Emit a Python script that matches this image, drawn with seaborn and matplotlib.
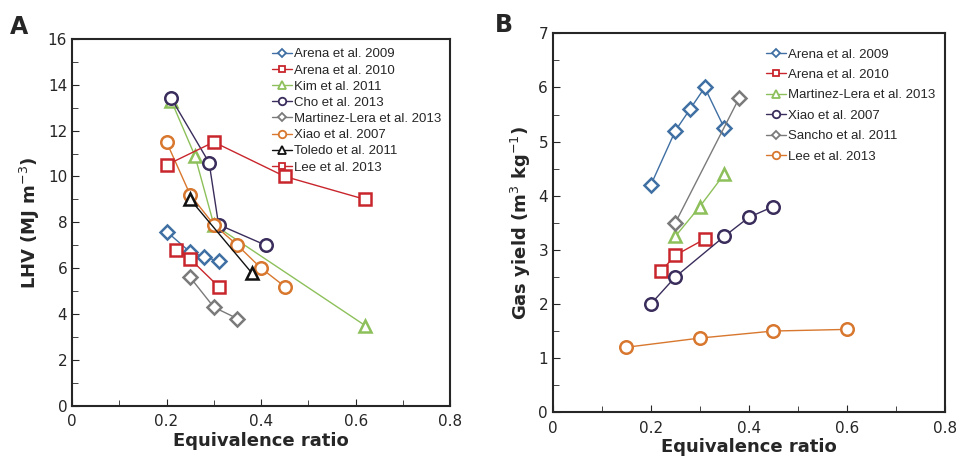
import matplotlib
matplotlib.use("Agg")
import matplotlib.pyplot as plt
from matplotlib.ticker import MultipleLocator
import seaborn as sns
import pandas as pd

sns.set_style("ticks")
plt.rcParams['font.family'] = ['DejaVu Sans']

# panel A: LHV vs equivalence ratio
a_labels = ['Arena et al. 2009', 'Arena et al. 2010', 'Kim et al. 2011', 'Cho et al. 2013',
            'Martinez-Lera et al. 2013', 'Xiao et al. 2007', 'Toledo et al. 2011', 'Lee et al. 2013']
a_x = [[0.20, 0.25, 0.28, 0.31],
       [0.22, 0.25, 0.31],
       [0.21, 0.26, 0.30, 0.62],
       [0.21, 0.29, 0.31, 0.41],
       [0.25, 0.30, 0.35],
       [0.20, 0.25, 0.30, 0.35, 0.40, 0.45],
       [0.25, 0.38],
       [0.20, 0.30, 0.45, 0.62]]
a_y = [[7.6, 6.7, 6.5, 6.3],
       [6.8, 6.4, 5.2],
       [13.3, 10.9, 7.9, 3.5],
       [13.4, 10.6, 7.9, 7.0],
       [5.6, 4.3, 3.8],
       [11.5, 9.2, 7.9, 7.0, 6.0, 5.2],
       [9.0, 5.8],
       [10.5, 11.5, 10.0, 9.0]]
a_style = [('#3f6fa3', 'D', 7), ('#c8262c', 's', 8), ('#8dc05a', '^', 9), ('#3a2d5c', 'o', 9),
           ('#7a7a7a', 'D', 7), ('#d8772e', 'o', 9), ('#111111', '^', 9), ('#c8262c', 's', 8)]

# panel B: gas yield vs equivalence ratio
b_labels = ['Arena et al. 2009', 'Arena et al. 2010', 'Martinez-Lera et al. 2013',
            'Xiao et al. 2007', 'Sancho et al. 2011', 'Lee et al. 2013']
b_x = [[0.20, 0.25, 0.28, 0.31, 0.35],
       [0.22, 0.25, 0.31],
       [0.25, 0.30, 0.35],
       [0.20, 0.25, 0.35, 0.40, 0.45],
       [0.25, 0.38],
       [0.15, 0.30, 0.45, 0.60]]
b_y = [[4.2, 5.2, 5.6, 6.0, 5.25],
       [2.6, 2.9, 3.2],
       [3.25, 3.8, 4.4],
       [2.0, 2.5, 3.25, 3.6, 3.8],
       [3.5, 5.8],
       [1.2, 1.37, 1.5, 1.53]]
b_style = [('#3f6fa3', 'D', 7), ('#c8262c', 's', 8), ('#8dc05a', '^', 9),
           ('#3a2d5c', 'o', 9), ('#7a7a7a', 'D', 7), ('#d8772e', 'o', 9)]

fig = plt.figure(figsize=(9.6, 4.57), dpi=100)
axA = fig.add_axes([0.075, 0.112, 0.394, 0.803])
axB = fig.add_axes([0.576, 0.098, 0.408, 0.829])


def draw(ax, labels, xs, ys, styles, spacing, anchor):
    for lab, x, y, (c, m, s) in zip(labels, xs, ys, styles):
        df = pd.DataFrame({'x': x, 'y': y})
        sns.lineplot(data=df, x='x', y='y', ax=ax, sort=False, color=c, lw=1,
                     marker=m, markersize=s, markerfacecolor='white',
                     markeredgecolor=c, markeredgewidth=1.8, label=lab)
    leg = ax.legend(loc='upper right', bbox_to_anchor=anchor, frameon=False, handlelength=1.5,
                    handletextpad=0.15, labelspacing=spacing, markerscale=0.6,
                    borderaxespad=0.3, prop={'family': 'Liberation Sans', 'size': 9.5})
    for h in leg.legend_handles:
        h.set_markeredgewidth(1.3)
    ax.set_xlim(0, 0.8)
    ax.set_xticks([0, 0.2, 0.4, 0.6, 0.8])
    ax.set_xticklabels(['0', '0.2', '0.4', '0.6', '0.8'])
    ax.xaxis.set_minor_locator(MultipleLocator(0.1))
    ax.tick_params(which='both', direction='in', labelsize=11)
    ax.tick_params(which='major', length=5)
    ax.tick_params(which='minor', length=4)
    ax.tick_params(axis='x', pad=6)
    for sp in ax.spines.values():
        sp.set_linewidth(1.5)
    ax.set_xlabel('Equivalence ratio', fontsize=13, fontweight='bold', labelpad=2)


draw(axA, a_labels, a_x, a_y, a_style, 0.3, (1, 1))
axA.set_ylim(0, 16)
axA.yaxis.set_major_locator(MultipleLocator(2))
axA.yaxis.set_minor_locator(MultipleLocator(1))
axA.set_ylabel('LHV (MJ m$^{-3}$)', fontsize=13, fontweight='bold')

draw(axB, b_labels, b_x, b_y, b_style, 0.62, (1, 0.985))
axB.set_ylim(0, 7)
axB.yaxis.set_major_locator(MultipleLocator(1))
axB.yaxis.set_minor_locator(MultipleLocator(0.5))
axB.set_ylabel('Gas yield (m$^{3}$ kg$^{-1}$)', fontsize=13, fontweight='bold')

fig.text(0.01, 0.925, 'A', fontsize=17, fontweight='bold')
fig.text(0.515, 0.93, 'B', fontsize=17, fontweight='bold')

fig.savefig('out.png', dpi=100)
